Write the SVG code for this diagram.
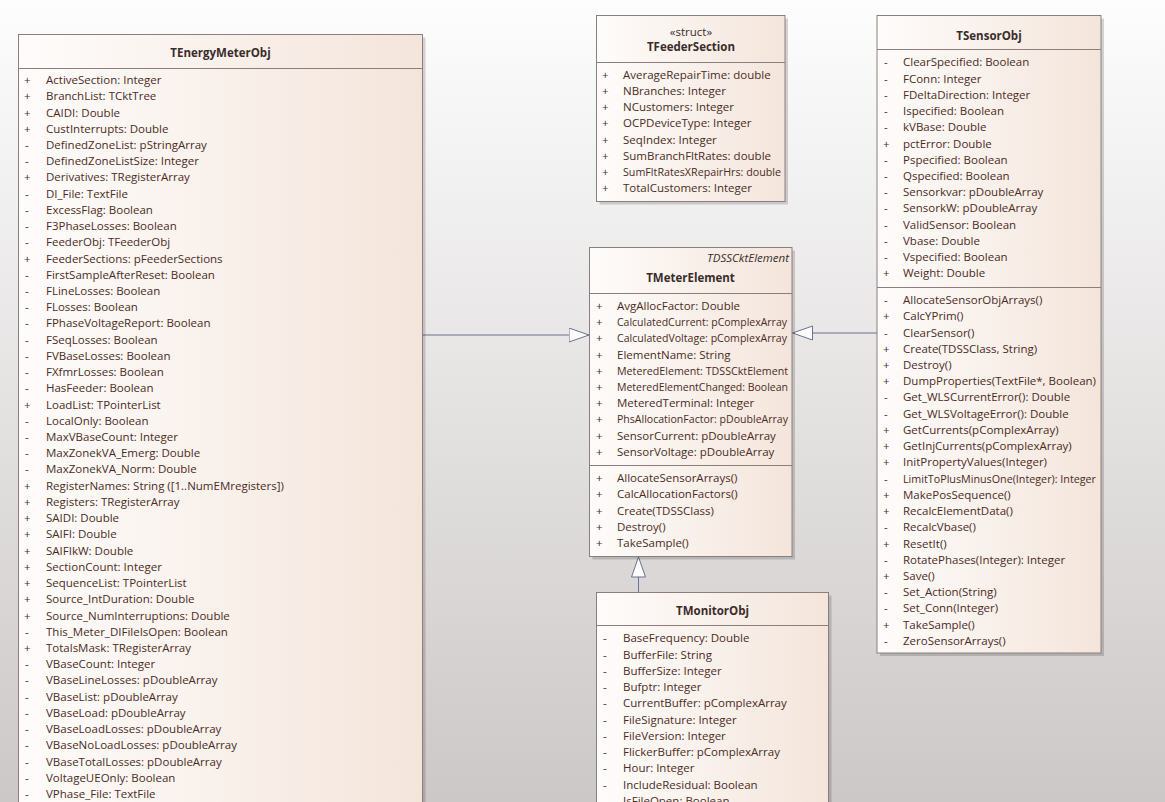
<svg xmlns="http://www.w3.org/2000/svg" width="1165" height="802" viewBox="0 0 1165 802">
<defs>
<linearGradient id="bg" x1="0" y1="0" x2="0" y2="1">
<stop offset="0" stop-color="#fdfdfd"/>
<stop offset="1" stop-color="#ccc8c7"/>
</linearGradient>
<linearGradient id="nodeFill" x1="0" y1="0" x2="1" y2="0">
<stop offset="0" stop-color="#fefcfb"/>
<stop offset="1" stop-color="#f4e5db"/>
</linearGradient>
<marker id="gen" markerUnits="userSpaceOnUse" markerWidth="22" markerHeight="16" refX="20.5" refY="7.5" orient="auto">
<path d="M0.5,0.5 L20.5,7.5 L0.5,14.5 Z" fill="#fcfafa" stroke="#6b7190" stroke-width="1"/>
</marker>
</defs>
<style>
.box{fill:url(#nodeFill);stroke:#8c7e7c;stroke-width:1}
.shadow{fill:#000;fill-opacity:0.16}
.sep{stroke:#8c7e7c;stroke-width:1}
.title{font-family:"Open Sans","Liberation Sans",sans-serif;font-size:11.5px;font-weight:bold;fill:#3a2c2a;text-anchor:middle}
.stereo{font-family:"Open Sans","Liberation Sans",sans-serif;font-size:11.5px;fill:#3a2c2a;text-anchor:middle}
.abs{font-family:"Open Sans","Liberation Sans",sans-serif;font-size:11.5px;font-style:italic;fill:#3a2c2a;text-anchor:end}
.row{font-family:"Open Sans","Liberation Sans",sans-serif;font-size:11.5px;fill:#4a2c24}
.conn{stroke:#6b7190;stroke-width:1;fill:none}
</style>
<rect x="0" y="0" width="1165" height="802" fill="url(#bg)"/>

<g id="connectors">
<line class="conn" x1="423" y1="335" x2="589" y2="335" marker-end="url(#gen)"/>
<line class="conn" x1="877" y1="333" x2="792.5" y2="333" marker-end="url(#gen)"/>
<line class="conn" x1="638.5" y1="592" x2="638.5" y2="557" marker-end="url(#gen)"/>
</g>

<g id="TEnergyMeterObj">
<rect class="shadow" x="21.5" y="37.5" width="404" height="800"/>
<rect class="box" x="18.5" y="34.5" width="404" height="800"/>
<line class="sep" x1="18.5" y1="68.5" x2="422.5" y2="68.5"/>
<text class="title" x="220.5" y="56.5">TEnergyMeterObj</text>
<text class="row" y="84"><tspan x="24">+</tspan><tspan x="46">ActiveSection: Integer</tspan></text>
<text class="row" y="100.2"><tspan x="24">+</tspan><tspan x="46">BranchList: TCktTree</tspan></text>
<text class="row" y="116.5"><tspan x="24">+</tspan><tspan x="46">CAIDI: Double</tspan></text>
<text class="row" y="132.7"><tspan x="24">+</tspan><tspan x="46">CustInterrupts: Double</tspan></text>
<text class="row" y="148.9"><tspan x="25">-</tspan><tspan x="46">DefinedZoneList: pStringArray</tspan></text>
<text class="row" y="165.1"><tspan x="25">-</tspan><tspan x="46">DefinedZoneListSize: Integer</tspan></text>
<text class="row" y="181.4"><tspan x="24">+</tspan><tspan x="46">Derivatives: TRegisterArray</tspan></text>
<text class="row" y="197.6"><tspan x="25">-</tspan><tspan x="46">DI_File: TextFile</tspan></text>
<text class="row" y="213.8"><tspan x="25">-</tspan><tspan x="46">ExcessFlag: Boolean</tspan></text>
<text class="row" y="230"><tspan x="25">-</tspan><tspan x="46">F3PhaseLosses: Boolean</tspan></text>
<text class="row" y="246.3"><tspan x="25">-</tspan><tspan x="46">FeederObj: TFeederObj</tspan></text>
<text class="row" y="262.5"><tspan x="24">+</tspan><tspan x="46">FeederSections: pFeederSections</tspan></text>
<text class="row" y="278.7"><tspan x="25">-</tspan><tspan x="46">FirstSampleAfterReset: Boolean</tspan></text>
<text class="row" y="295"><tspan x="25">-</tspan><tspan x="46">FLineLosses: Boolean</tspan></text>
<text class="row" y="311.2"><tspan x="25">-</tspan><tspan x="46">FLosses: Boolean</tspan></text>
<text class="row" y="327.4"><tspan x="25">-</tspan><tspan x="46">FPhaseVoltageReport: Boolean</tspan></text>
<text class="row" y="343.6"><tspan x="25">-</tspan><tspan x="46">FSeqLosses: Boolean</tspan></text>
<text class="row" y="359.9"><tspan x="25">-</tspan><tspan x="46">FVBaseLosses: Boolean</tspan></text>
<text class="row" y="376.1"><tspan x="25">-</tspan><tspan x="46">FXfmrLosses: Boolean</tspan></text>
<text class="row" y="392.3"><tspan x="25">-</tspan><tspan x="46">HasFeeder: Boolean</tspan></text>
<text class="row" y="408.5"><tspan x="24">+</tspan><tspan x="46">LoadList: TPointerList</tspan></text>
<text class="row" y="424.8"><tspan x="25">-</tspan><tspan x="46">LocalOnly: Boolean</tspan></text>
<text class="row" y="441"><tspan x="25">-</tspan><tspan x="46">MaxVBaseCount: Integer</tspan></text>
<text class="row" y="457.2"><tspan x="25">-</tspan><tspan x="46">MaxZonekVA_Emerg: Double</tspan></text>
<text class="row" y="473.4"><tspan x="25">-</tspan><tspan x="46">MaxZonekVA_Norm: Double</tspan></text>
<text class="row" y="489.7"><tspan x="24">+</tspan><tspan x="46">RegisterNames: String ([1..NumEMregisters])</tspan></text>
<text class="row" y="505.9"><tspan x="24">+</tspan><tspan x="46">Registers: TRegisterArray</tspan></text>
<text class="row" y="522.1"><tspan x="24">+</tspan><tspan x="46">SAIDI: Double</tspan></text>
<text class="row" y="538.4"><tspan x="24">+</tspan><tspan x="46">SAIFI: Double</tspan></text>
<text class="row" y="554.6"><tspan x="24">+</tspan><tspan x="46">SAIFIkW: Double</tspan></text>
<text class="row" y="570.8"><tspan x="24">+</tspan><tspan x="46">SectionCount: Integer</tspan></text>
<text class="row" y="587"><tspan x="24">+</tspan><tspan x="46">SequenceList: TPointerList</tspan></text>
<text class="row" y="603.3"><tspan x="24">+</tspan><tspan x="46">Source_IntDuration: Double</tspan></text>
<text class="row" y="619.5"><tspan x="24">+</tspan><tspan x="46">Source_NumInterruptions: Double</tspan></text>
<text class="row" y="635.7"><tspan x="25">-</tspan><tspan x="46">This_Meter_DIFileIsOpen: Boolean</tspan></text>
<text class="row" y="651.9"><tspan x="24">+</tspan><tspan x="46">TotalsMask: TRegisterArray</tspan></text>
<text class="row" y="668.2"><tspan x="25">-</tspan><tspan x="46">VBaseCount: Integer</tspan></text>
<text class="row" y="684.4"><tspan x="25">-</tspan><tspan x="46">VBaseLineLosses: pDoubleArray</tspan></text>
<text class="row" y="700.6"><tspan x="25">-</tspan><tspan x="46">VBaseList: pDoubleArray</tspan></text>
<text class="row" y="716.8"><tspan x="25">-</tspan><tspan x="46">VBaseLoad: pDoubleArray</tspan></text>
<text class="row" y="733.1"><tspan x="25">-</tspan><tspan x="46">VBaseLoadLosses: pDoubleArray</tspan></text>
<text class="row" y="749.3"><tspan x="25">-</tspan><tspan x="46">VBaseNoLoadLosses: pDoubleArray</tspan></text>
<text class="row" y="765.5"><tspan x="25">-</tspan><tspan x="46">VBaseTotalLosses: pDoubleArray</tspan></text>
<text class="row" y="781.8"><tspan x="25">-</tspan><tspan x="46">VoltageUEOnly: Boolean</tspan></text>
<text class="row" y="798"><tspan x="25">-</tspan><tspan x="46">VPhase_File: TextFile</tspan></text>
</g>

<g id="TFeederSection">
<rect class="shadow" x="599.5" y="18.5" width="188.5" height="186"/>
<rect class="box" x="596.5" y="15.5" width="188.5" height="186"/>
<line class="sep" x1="596.5" y1="62.5" x2="785" y2="62.5"/>
<text class="stereo" x="691" y="35.5">«struct»</text>
<text class="title" x="691" y="51">TFeederSection</text>
<text class="row" y="79"><tspan x="602">+</tspan><tspan x="623">AverageRepairTime: double</tspan></text>
<text class="row" y="95.1"><tspan x="602">+</tspan><tspan x="623">NBranches: Integer</tspan></text>
<text class="row" y="111.3"><tspan x="602">+</tspan><tspan x="623">NCustomers: Integer</tspan></text>
<text class="row" y="127.4"><tspan x="602">+</tspan><tspan x="623">OCPDeviceType: Integer</tspan></text>
<text class="row" y="143.6"><tspan x="602">+</tspan><tspan x="623">SeqIndex: Integer</tspan></text>
<text class="row" y="159.7"><tspan x="602">+</tspan><tspan x="623">SumBranchFltRates: double</tspan></text>
<text class="row" y="175.8" ><tspan x="602">+</tspan><tspan x="623" textLength="158" lengthAdjust="spacingAndGlyphs">SumFltRatesXRepairHrs: double</tspan></text>
<text class="row" y="192"><tspan x="602">+</tspan><tspan x="623">TotalCustomers: Integer</tspan></text>
</g>

<g id="TMeterElement">
<rect class="shadow" x="592.5" y="250.5" width="202.5" height="309"/>
<rect class="box" x="589.5" y="247.5" width="202.5" height="309"/>
<line class="sep" x1="589.5" y1="293.5" x2="792" y2="293.5"/>
<line class="sep" x1="589.5" y1="465.5" x2="792" y2="465.5"/>
<text class="abs" x="789" y="262">TDSSCktElement</text>
<text class="title" x="690.5" y="282">TMeterElement</text>
<text class="row" y="310"><tspan x="596">+</tspan><tspan x="617">AvgAllocFactor: Double</tspan></text>
<text class="row" y="326.2"><tspan x="596">+</tspan><tspan x="617" textLength="170" lengthAdjust="spacingAndGlyphs">CalculatedCurrent: pComplexArray</tspan></text>
<text class="row" y="342.4"><tspan x="596">+</tspan><tspan x="617" textLength="170" lengthAdjust="spacingAndGlyphs">CalculatedVoltage: pComplexArray</tspan></text>
<text class="row" y="358.6"><tspan x="596">+</tspan><tspan x="617">ElementName: String</tspan></text>
<text class="row" y="374.8"><tspan x="596">+</tspan><tspan x="617" textLength="171" lengthAdjust="spacingAndGlyphs">MeteredElement: TDSSCktElement</tspan></text>
<text class="row" y="391"><tspan x="596">+</tspan><tspan x="617" textLength="171" lengthAdjust="spacingAndGlyphs">MeteredElementChanged: Boolean</tspan></text>
<text class="row" y="407.1"><tspan x="596">+</tspan><tspan x="617">MeteredTerminal: Integer</tspan></text>
<text class="row" y="423.3"><tspan x="596">+</tspan><tspan x="617" textLength="171" lengthAdjust="spacingAndGlyphs">PhsAllocationFactor: pDoubleArray</tspan></text>
<text class="row" y="439.5"><tspan x="596">+</tspan><tspan x="617">SensorCurrent: pDoubleArray</tspan></text>
<text class="row" y="455.7"><tspan x="596">+</tspan><tspan x="617">SensorVoltage: pDoubleArray</tspan></text>
<text class="row" y="482"><tspan x="596">+</tspan><tspan x="617">AllocateSensorArrays()</tspan></text>
<text class="row" y="498.3"><tspan x="596">+</tspan><tspan x="617">CalcAllocationFactors()</tspan></text>
<text class="row" y="514.5"><tspan x="596">+</tspan><tspan x="617">Create(TDSSClass)</tspan></text>
<text class="row" y="530.8"><tspan x="596">+</tspan><tspan x="617">Destroy()</tspan></text>
<text class="row" y="547"><tspan x="596">+</tspan><tspan x="617">TakeSample()</tspan></text>
</g>

<g id="TMonitorObj">
<rect class="shadow" x="599.5" y="595.5" width="232" height="250"/>
<rect class="box" x="596.5" y="592.5" width="232" height="250"/>
<line class="sep" x1="596.5" y1="625.5" x2="828.5" y2="625.5"/>
<text class="title" x="712.5" y="615">TMonitorObj</text>
<text class="row" y="642.3"><tspan x="603">-</tspan><tspan x="623">BaseFrequency: Double</tspan></text>
<text class="row" y="658.6"><tspan x="603">-</tspan><tspan x="623">BufferFile: String</tspan></text>
<text class="row" y="674.8"><tspan x="603">-</tspan><tspan x="623">BufferSize: Integer</tspan></text>
<text class="row" y="691.1"><tspan x="603">-</tspan><tspan x="623">Bufptr: Integer</tspan></text>
<text class="row" y="707.3"><tspan x="603">-</tspan><tspan x="623">CurrentBuffer: pComplexArray</tspan></text>
<text class="row" y="723.6"><tspan x="603">-</tspan><tspan x="623">FileSignature: Integer</tspan></text>
<text class="row" y="739.8"><tspan x="603">-</tspan><tspan x="623">FileVersion: Integer</tspan></text>
<text class="row" y="756.1"><tspan x="603">-</tspan><tspan x="623">FlickerBuffer: pComplexArray</tspan></text>
<text class="row" y="772.3"><tspan x="603">-</tspan><tspan x="623">Hour: Integer</tspan></text>
<text class="row" y="788.6"><tspan x="603">-</tspan><tspan x="623">IncludeResidual: Boolean</tspan></text>
<text class="row" y="804.8"><tspan x="603">-</tspan><tspan x="623">IsFileOpen: Boolean</tspan></text>
</g>

<g id="TSensorObj">
<rect class="shadow" x="880" y="18.5" width="224" height="637.5"/>
<rect class="box" x="877" y="15.5" width="224" height="637.5"/>
<line class="sep" x1="877" y1="49.5" x2="1101" y2="49.5"/>
<line class="sep" x1="877" y1="287.5" x2="1101" y2="287.5"/>
<text class="title" x="989" y="40">TSensorObj</text>
<text class="row" y="66.3"><tspan x="884">-</tspan><tspan x="903">ClearSpecified: Boolean</tspan></text>
<text class="row" y="82.5"><tspan x="884">-</tspan><tspan x="903">FConn: Integer</tspan></text>
<text class="row" y="98.8"><tspan x="884">-</tspan><tspan x="903">FDeltaDirection: Integer</tspan></text>
<text class="row" y="115"><tspan x="884">-</tspan><tspan x="903">Ispecified: Boolean</tspan></text>
<text class="row" y="131.2"><tspan x="884">-</tspan><tspan x="903">kVBase: Double</tspan></text>
<text class="row" y="147.5"><tspan x="883">+</tspan><tspan x="903">pctError: Double</tspan></text>
<text class="row" y="163.7"><tspan x="884">-</tspan><tspan x="903">Pspecified: Boolean</tspan></text>
<text class="row" y="179.9"><tspan x="884">-</tspan><tspan x="903">Qspecified: Boolean</tspan></text>
<text class="row" y="196.1"><tspan x="884">-</tspan><tspan x="903">Sensorkvar: pDoubleArray</tspan></text>
<text class="row" y="212.4"><tspan x="884">-</tspan><tspan x="903">SensorkW: pDoubleArray</tspan></text>
<text class="row" y="228.6"><tspan x="884">-</tspan><tspan x="903">ValidSensor: Boolean</tspan></text>
<text class="row" y="244.8"><tspan x="884">-</tspan><tspan x="903">Vbase: Double</tspan></text>
<text class="row" y="261.1"><tspan x="884">-</tspan><tspan x="903">Vspecified: Boolean</tspan></text>
<text class="row" y="277.3"><tspan x="883">+</tspan><tspan x="903">Weight: Double</tspan></text>
<text class="row" y="304"><tspan x="884">-</tspan><tspan x="903">AllocateSensorObjArrays()</tspan></text>
<text class="row" y="320.2"><tspan x="883">+</tspan><tspan x="903">CalcYPrim()</tspan></text>
<text class="row" y="336.5"><tspan x="884">-</tspan><tspan x="903">ClearSensor()</tspan></text>
<text class="row" y="352.7"><tspan x="883">+</tspan><tspan x="903">Create(TDSSClass, String)</tspan></text>
<text class="row" y="368.9"><tspan x="883">+</tspan><tspan x="903">Destroy()</tspan></text>
<text class="row" y="385.2"><tspan x="883">+</tspan><tspan x="903" textLength="193" lengthAdjust="spacingAndGlyphs">DumpProperties(TextFile*, Boolean)</tspan></text>
<text class="row" y="401.4"><tspan x="884">-</tspan><tspan x="903">Get_WLSCurrentError(): Double</tspan></text>
<text class="row" y="417.6"><tspan x="884">-</tspan><tspan x="903">Get_WLSVoltageError(): Double</tspan></text>
<text class="row" y="433.8"><tspan x="883">+</tspan><tspan x="903">GetCurrents(pComplexArray)</tspan></text>
<text class="row" y="450.1"><tspan x="883">+</tspan><tspan x="903">GetInjCurrents(pComplexArray)</tspan></text>
<text class="row" y="466.3"><tspan x="883">+</tspan><tspan x="903">InitPropertyValues(Integer)</tspan></text>
<text class="row" y="482.5"><tspan x="884">-</tspan><tspan x="903" textLength="193" lengthAdjust="spacingAndGlyphs">LimitToPlusMinusOne(Integer): Integer</tspan></text>
<text class="row" y="498.8"><tspan x="883">+</tspan><tspan x="903">MakePosSequence()</tspan></text>
<text class="row" y="515"><tspan x="883">+</tspan><tspan x="903">RecalcElementData()</tspan></text>
<text class="row" y="531.2"><tspan x="884">-</tspan><tspan x="903">RecalcVbase()</tspan></text>
<text class="row" y="547.5"><tspan x="883">+</tspan><tspan x="903">ResetIt()</tspan></text>
<text class="row" y="563.7"><tspan x="884">-</tspan><tspan x="903">RotatePhases(Integer): Integer</tspan></text>
<text class="row" y="579.9"><tspan x="883">+</tspan><tspan x="903">Save()</tspan></text>
<text class="row" y="596.1"><tspan x="884">-</tspan><tspan x="903">Set_Action(String)</tspan></text>
<text class="row" y="612.4"><tspan x="884">-</tspan><tspan x="903">Set_Conn(Integer)</tspan></text>
<text class="row" y="628.6"><tspan x="883">+</tspan><tspan x="903">TakeSample()</tspan></text>
<text class="row" y="644.8"><tspan x="884">-</tspan><tspan x="903">ZeroSensorArrays()</tspan></text>
</g>
</svg>
